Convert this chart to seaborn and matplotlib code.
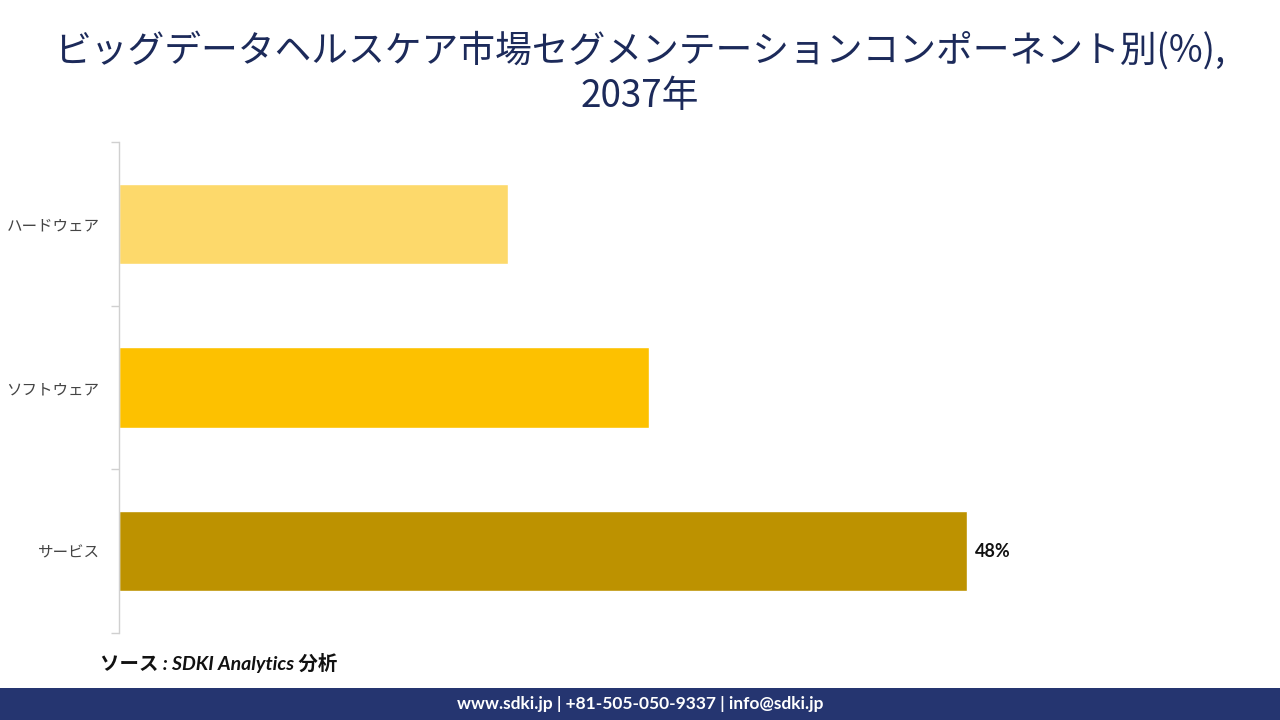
import matplotlib
matplotlib.use("Agg")
import matplotlib.pyplot as plt
import seaborn as sns
import pandas as pd
from matplotlib.patches import Rectangle

categories = ["ハードウェア", "ソフトウェア", "サービス"]
values = [22, 30, 48]
colors = ["#FDD96B", "#FDC100", "#BD9200"]
labels = ["", "", "48%"]
title = "ビッグデータヘルスケア市場セグメンテーションコンポーネント別(%),\n2037年"
source = "ソース : SDKI Analytics 分析"
footer = "www.sdki.jp | +81-505-050-9337 | info@sdki.jp"

sns.set_theme(style="white")
plt.rcParams['font.family'] = ['Noto Sans CJK JP', 'DejaVu Sans']

df = pd.DataFrame({"category": categories, "value": values})

fig = plt.figure(figsize=(12.8, 7.2), dpi=100)
ax = fig.add_axes([119/1280, 1-633/720, (1240-119)/1280, (633-142)/720])

sns.barplot(data=df, y="category", x="value", hue="category", palette=colors,
            legend=False, width=0.49, ax=ax, saturation=1, orient="h")

ax.set_xlim(0, 48 * (1240-119) / (967-119))
ax.set_ylim(2.5, -0.5)
ax.set_xlabel("")
ax.set_ylabel("")
ax.set_xticks([])
for s in ["top", "right", "bottom"]:
    ax.spines[s].set_visible(False)
ax.spines["left"].set_color("#d0d0d0")
ax.spines["left"].set_linewidth(1)
ax.set_yticks([-0.5, 0.5, 1.5, 2.5], minor=True)
ax.tick_params(axis="y", which="minor", length=6, color="#d0d0d0", width=1, left=True)
ax.tick_params(axis="y", which="major", length=0, pad=14, labelsize=11.2, labelcolor="#444444")

for i, (v, lab) in enumerate(zip(values, labels)):
    if lab:
        ax.text(v + 0.45, i, lab, va="center", ha="left", fontsize=13,
                fontweight="bold", color="#111111", family=["Lato", "DejaVu Sans"])

fig.text(0.5, 1-74/720, title, ha="center", va="center", fontsize=26.5,
         color="#1c2a5a", linespacing=1.2)

fig.text(100/1280, 1-663/720, source, ha="left", va="center", fontsize=14,
         style="italic", fontweight="bold", color="#111111",
         family=["Lato", "Noto Sans CJK JP", "DejaVu Sans"])

fig.patches.append(Rectangle((0, 0), 1, 32/720, transform=fig.transFigure,
                             facecolor="#253570", edgecolor="none", zorder=0))
fig.text(0.5, 16/720, footer, ha="center", va="center", fontsize=12.5,
         fontweight="bold", color="white", family=["Lato", "DejaVu Sans"])

fig.savefig("out.png", dpi=100)
